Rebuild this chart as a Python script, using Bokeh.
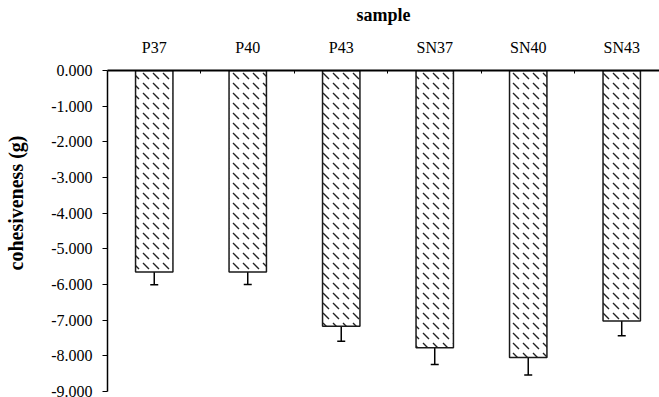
import numpy as np
from bokeh.plotting import figure
from bokeh.models import (ColumnDataSource, Range1d, LinearAxis, FixedTicker,
                          NumeralTickFormatter, Whisker, TeeHead, Title)
from bokeh.embed import file_html
from bokeh.resources import INLINE

# ---- data ----
categories = ["P37", "P40", "P43", "SN37", "SN40", "SN43"]
cohesiveness = [-5.65, -5.65, -7.17, -7.77, -8.05, -7.02]
error = [0.36, 0.35, 0.42, 0.47, 0.49, 0.42]
y_ticks = [0, -1, -2, -3, -4, -5, -6, -7, -8, -9]

x = np.arange(len(categories)) + 0.5
src = ColumnDataSource(dict(
    x=x, top=[0.0] * len(categories), bottom=cohesiveness,
    upper=[v + e for v, e in zip(cohesiveness, error)],
    lower=[v - e for v, e in zip(cohesiveness, error)],
))

FONT = "Liberation Serif"

p = figure(width=679, height=397, output_backend="svg", toolbar_location=None,
           x_range=Range1d(0, 5.904), y_range=Range1d(-9, 0),
           x_axis_location=None, y_axis_location=None,
           min_border_left=127, min_border_right=0, min_border_top=70,
           min_border_bottom=6)
p.margin = (0, 0, 0, -20)
p.outline_line_color = None
p.xgrid.visible = False
p.ygrid.visible = False
p.background_fill_color = "white"

p.vbar(x="x", top="top", bottom="bottom", width=0.4, source=src,
       fill_color="white", line_color="#1a1a1a", line_width=1.5,
       hatch_pattern="left_diagonal_dash", hatch_color="#222222",
       hatch_weight=1.4, hatch_scale=10)

wk = Whisker(base="x", upper="upper", lower="lower", source=src,
             line_color="black", line_width=1.5,
             upper_head=TeeHead(size=8, line_color="black", line_width=1.5),
             lower_head=TeeHead(size=8, line_color="black", line_width=1.5))
p.add_layout(wk)

# top category axis
xa = LinearAxis(axis_label="sample")
xa.ticker = FixedTicker(ticks=list(x), minor_ticks=[1, 2, 3, 4, 5])
xa.major_label_overrides = {float(v): c for v, c in zip(x, categories)}
xa.major_tick_line_color = None
xa.minor_tick_in = 3
xa.minor_tick_out = 0
xa.minor_tick_line_color = "black"
xa.axis_line_width = 2
xa.axis_line_color = "black"
xa.major_label_text_font = FONT
xa.major_label_text_font_size = "16px"
xa.major_label_text_color = "black"
xa.major_label_standoff = 9
xa.axis_label_text_font = FONT
xa.axis_label_text_font_style = "bold"
xa.axis_label_text_font_size = "18px"
xa.axis_label_text_color = "black"
xa.axis_label_standoff = 11
p.add_layout(xa, "above")

# left value axis
ya = LinearAxis()
ya.ticker = FixedTicker(ticks=y_ticks, minor_ticks=[])
ya.formatter = NumeralTickFormatter(format="0.000")
ya.major_tick_in = 0
ya.major_tick_out = 5
ya.major_tick_line_color = "black"
ya.axis_line_width = 1.5
ya.axis_line_color = "black"
ya.major_label_text_font = FONT
ya.major_label_text_font_size = "16px"
ya.major_label_text_color = "black"
ya.major_label_standoff = 10
p.add_layout(ya, "left")

# y axis title, sitting a little above the plot's vertical centre as in the reference
ytitle = Title(text="cohesiveness (g)", align="right", offset=65, standoff=44,
               text_font=FONT, text_font_style="bold", text_font_size="20px",
               text_color="black")
p.add_layout(ytitle, "left")

open("out.html", "w").write(file_html(p, INLINE))
